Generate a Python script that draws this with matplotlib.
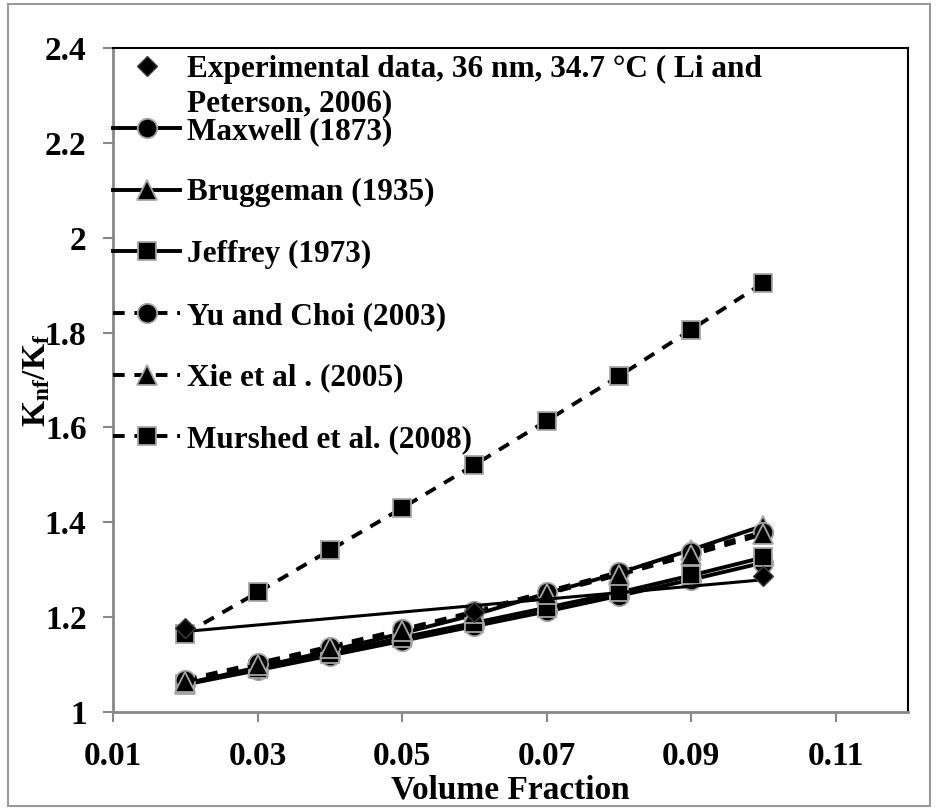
import numpy as np
import matplotlib
matplotlib.use('Agg')
import matplotlib.pyplot as plt
from matplotlib.patches import Rectangle

plt.rcParams['font.family'] = 'Liberation Serif'
plt.rcParams['font.weight'] = 'bold'
plt.rcParams['axes.labelweight'] = 'bold'
plt.rcParams['mathtext.fontset'] = 'custom'
plt.rcParams['mathtext.rm'] = 'Liberation Serif:bold'
plt.rcParams['mathtext.bf'] = 'Liberation Serif:bold'
plt.rcParams['mathtext.it'] = 'Liberation Serif:bold'

# volume fraction
phi = [0.02, 0.03, 0.04, 0.05, 0.06, 0.07, 0.08, 0.09, 0.10]

# experimental data (Li and Peterson, 2006)
exp_phi = [0.02, 0.06, 0.10]
exp_k = [1.177, 1.210, 1.286]

# models
maxwell = [1.058, 1.088, 1.119, 1.150, 1.181, 1.212, 1.245, 1.279, 1.315]
bruggeman = [1.060, 1.094, 1.129, 1.166, 1.205, 1.250, 1.293, 1.342, 1.393]
jeffrey = [1.059, 1.091, 1.123, 1.157, 1.188, 1.220, 1.252, 1.288, 1.326]
yu_choi = [1.068, 1.103, 1.138, 1.174, 1.212, 1.254, 1.295, 1.337, 1.380]
xie = [1.064, 1.099, 1.135, 1.171, 1.209, 1.249, 1.289, 1.331, 1.375]
murshed = [1.165, 1.252, 1.341, 1.430, 1.521, 1.614, 1.708, 1.806, 1.905]

x_ticks = [0.01, 0.03, 0.05, 0.07, 0.09, 0.11]
y_ticks = [1, 1.2, 1.4, 1.6, 1.8, 2, 2.2, 2.4]

FS = 22.5
TFS = 24
GREY = '#a6a6a6'
dash = (0, (3, 2.5))

fig = plt.figure(figsize=(9.36, 8.1), dpi=100)
ax = fig.add_axes([113/936, 1 - 712/810, 795/936, 664/810])

# linear trendline through experimental points
coef = np.polyfit(exp_phi, exp_k, 1)
tx = np.array([exp_phi[0], exp_phi[-1]])
ax.plot(tx, np.polyval(coef, tx), color='black', lw=2.2, zorder=8)

common = dict(color='black', mfc='black', mec=GREY, mew=1.3, lw=2.8)
ax.plot(phi, maxwell, marker='o', ms=14, ls='-', label='Maxwell (1873)', **common)
ax.plot(phi, bruggeman, marker='^', ms=14, ls='-', label='Bruggeman (1935)', **common)
ax.plot(phi, jeffrey, marker='s', ms=13, ls='-', label='Jeffrey (1973)', **common)
ax.plot(phi, yu_choi, marker='o', ms=14, ls=dash, label='Yu and Choi (2003)', **common)
ax.plot(phi, xie, marker='^', ms=14, ls=dash, label='Xie et al . (2005)', **common)
ax.plot(phi, murshed, marker='s', ms=13, ls=dash, label='Murshed et al. (2008)', **common)
ax.plot(exp_phi, exp_k, marker='D', ms=10, ls='none', color='black', mfc='black',
        mec='#404040', mew=1, zorder=9,
        label='Experimental data, 36 nm, 34.7 °C ( Li and')

ax.set_xlim(0.01, 0.12)
ax.set_ylim(1, 2.4)
ax.set_xticks(x_ticks)
ax.set_xticklabels(['0.01', '0.03', '0.05', '0.07', '0.09', '0.11'])
ax.set_yticks(y_ticks)
ax.set_yticklabels(['1', '1.2', '1.4', '1.6', '1.8', '2', '2.2', '2.4'])
ax.tick_params(axis='both', labelsize=TFS, color='#888888', width=1.5, length=7)
ax.tick_params(axis='y', pad=12)
ax.tick_params(axis='x', pad=14)

for s in ['left', 'bottom']:
    ax.spines[s].set_color('#888888')
    ax.spines[s].set_linewidth(2)
for s in ['top', 'right']:
    ax.spines[s].set_color('black')
    ax.spines[s].set_linewidth(1.5)

ax.set_xlabel('Volume Fraction', fontsize=TFS, labelpad=2)
ax.set_ylabel(r'$\mathbf{K_{nf}/K_f}$', fontsize=TFS, labelpad=-5)

handles, labels = ax.get_legend_handles_labels()
order = [6, 0, 1, 2, 3, 4, 5]
leg = ax.legend([handles[i] for i in order], [labels[i] for i in order],
                loc='upper left', bbox_to_anchor=(113/936, 1 - 55/810),
                bbox_transform=fig.transFigure, frameon=False, fontsize=FS,
                borderpad=0, borderaxespad=0, handlelength=2.15,
                handletextpad=0.22, labelspacing=1.045)

fig.canvas.draw()
bb = leg.get_texts()[0].get_window_extent()
inv = fig.transFigure.inverted()
x0, y1 = inv.transform((bb.x0, bb.y1))
fig.text(x0, y1 - 34/810, 'Peterson, 2006)', fontsize=FS, va='top', ha='left')

fig.patches.append(Rectangle((8/936, 4/810), 922/936, 802/810, transform=fig.transFigure,
                             fill=False, edgecolor='#999999', lw=1.5))

fig.savefig('out.png', dpi=100)
